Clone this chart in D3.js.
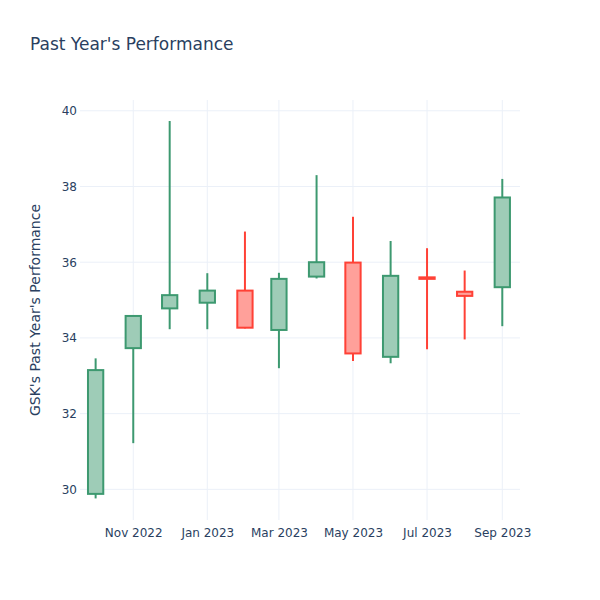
<!DOCTYPE html>
<html>
<head>
<meta charset="utf-8">
<script src="https://cdn.jsdelivr.net/npm/d3@7"></script>
<style>
  html, body { margin: 0; padding: 0; background: #fff; }
  svg { display: block; }
  text { font-family: "DejaVu Sans", verdana, arial, sans-serif; fill: #2a3f5f; }
</style>
</head>
<body>
<svg id="chart" width="600" height="600"></svg>
<script>
// ---- data ----
const dates = ["2022-10-01","2022-11-01","2022-12-01","2023-01-01","2023-02-01","2023-03-01",
               "2023-04-01","2023-05-01","2023-06-01","2023-07-01","2023-08-01","2023-09-01"];
const open  = [29.88, 33.73, 34.78, 34.93, 35.25, 34.21, 35.62, 35.99, 33.50, 35.60, 35.22, 35.34];
const high  = [33.46, 34.60, 39.73, 35.71, 36.81, 35.72, 38.30, 37.20, 36.56, 36.37, 35.78, 38.20];
const low   = [29.76, 31.22, 34.23, 34.23, 34.25, 33.20, 35.57, 33.39, 33.33, 33.70, 33.96, 34.31];
const close = [33.15, 34.58, 35.13, 35.25, 34.27, 35.56, 36.00, 33.59, 35.64, 35.56, 35.11, 37.71];
const yTicks = [30, 32, 34, 36, 38, 40];
const xTickDates = ["2022-11-01","2023-01-01","2023-03-01","2023-05-01","2023-07-01","2023-09-01"];
const titleText = "Past Year's Performance";
const yTitleText = "GSK's Past Year's Performance";

// ---- layout ----
const W = 600, H = 600;
const m = {l: 80, r: 80, t: 100, b: 80};
const pw = W - m.l - m.r, ph = H - m.t - m.b;
const parse = d3.utcParse("%Y-%m-%d");
const DAY = 86400000;

const x = d3.scaleUtc()
  .domain([new Date(Date.UTC(2022, 8, 18, 3)), new Date(Date.UTC(2023, 8, 15, 14))])
  .range([m.l, m.l + pw]);
const y = d3.scaleLinear().domain([29.19, 40.285]).range([m.t + ph, m.t]);

const svg = d3.select("#chart");

// grid
const g = svg.append("g");
g.selectAll("line.yg").data(yTicks).join("line")
  .attr("x1", m.l).attr("x2", m.l + pw)
  .attr("y1", d => y(d)).attr("y2", d => y(d))
  .attr("stroke", "#EBF0F8").attr("stroke-width", 1);
g.selectAll("line.xg").data(xTickDates.map(parse)).join("line")
  .attr("x1", d => x(d)).attr("x2", d => x(d))
  .attr("y1", m.t).attr("y2", m.t + ph)
  .attr("stroke", "#EBF0F8").attr("stroke-width", 1);

// axes (labels only)
const xAxis = d3.axisBottom(x).tickValues(xTickDates.map(parse))
  .tickFormat(d3.utcFormat("%b %Y")).tickSize(0).tickPadding(8);
const xg = svg.append("g").attr("transform", `translate(0,${m.t + ph})`).call(xAxis);
xg.select(".domain").remove();
xg.selectAll("text").attr("font-size", 12).attr("font-family", null);

const yAxis = d3.axisLeft(y).tickValues(yTicks).tickSize(0).tickPadding(3);
const yg = svg.append("g").attr("transform", `translate(${m.l},0)`).call(yAxis);
yg.select(".domain").remove();
yg.selectAll("text").attr("font-size", 12).attr("font-family", null);

// candles
const data = dates.map((d, i) => ({date: parse(d), o: open[i], h: high[i], l: low[i], c: close[i]}));
const halfW = 6.3 * DAY;
const inc = {line: "#3D9970", fill: "rgba(61,153,112,0.5)"};
const dec = {line: "#FF4136", fill: "rgba(255,65,54,0.5)"};

const cg = svg.append("g");
const candle = cg.selectAll("g.c").data(data).join("g");
candle.append("line")
  .attr("x1", d => x(d.date)).attr("x2", d => x(d.date))
  .attr("y1", d => y(d.h)).attr("y2", d => y(d.l))
  .attr("stroke", d => d.c >= d.o ? inc.line : dec.line).attr("stroke-width", 2);
candle.append("rect")
  .attr("x", d => x(new Date(+d.date - halfW)))
  .attr("width", d => x(new Date(+d.date + halfW)) - x(new Date(+d.date - halfW)))
  .attr("y", d => y(Math.max(d.o, d.c)))
  .attr("height", d => Math.max(0.5, y(Math.min(d.o, d.c)) - y(Math.max(d.o, d.c))))
  .attr("fill", "#fff");
candle.append("rect")
  .attr("x", d => x(new Date(+d.date - halfW)))
  .attr("width", d => x(new Date(+d.date + halfW)) - x(new Date(+d.date - halfW)))
  .attr("y", d => y(Math.max(d.o, d.c)))
  .attr("height", d => Math.max(0.5, y(Math.min(d.o, d.c)) - y(Math.max(d.o, d.c))))
  .attr("fill", d => d.c >= d.o ? inc.fill : dec.fill)
  .attr("stroke", d => d.c >= d.o ? inc.line : dec.line).attr("stroke-width", 2);

// titles
svg.append("text").attr("x", 30).attr("y", 50).attr("font-size", 17).text(titleText);
svg.append("text")
  .attr("transform", `translate(40,${m.t + ph / 2}) rotate(-90)`)
  .attr("text-anchor", "middle").attr("font-size", 14).text(yTitleText);
</script>
</body>
</html>
